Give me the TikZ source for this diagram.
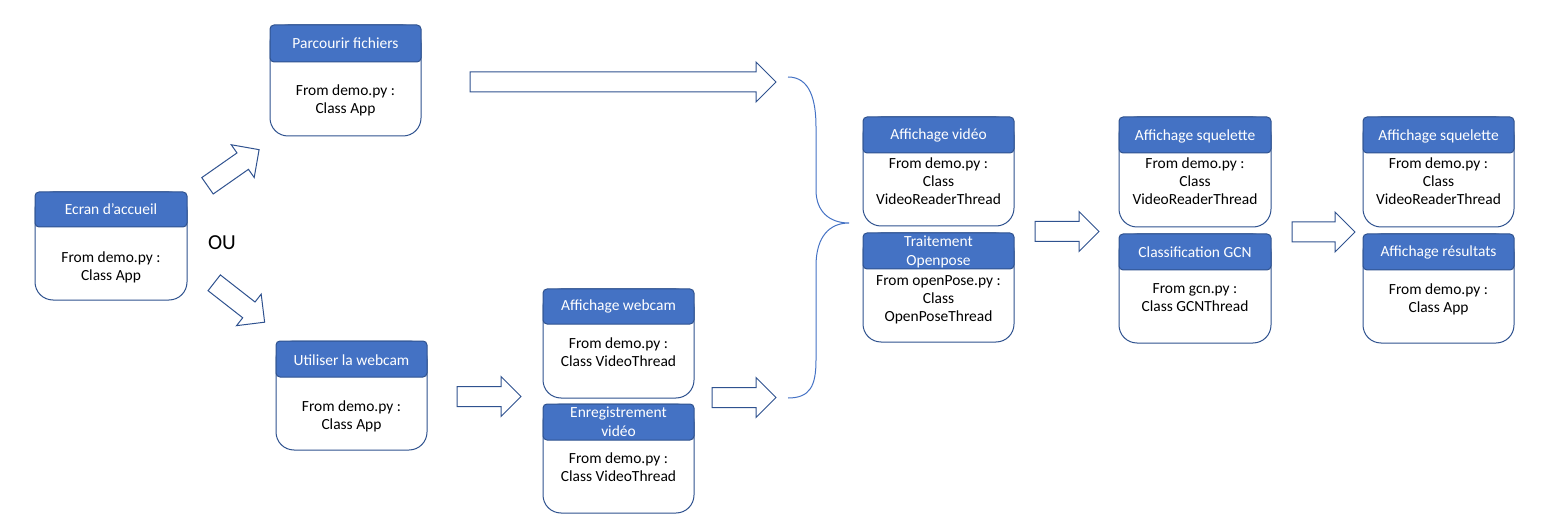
\documentclass[tikz,border=0pt]{standalone}
\usepackage{fontspec}
\setmainfont{Carlito}
\usepackage{tikz}

\definecolor{bleu}{HTML}{4472C4}
\definecolor{bordure}{HTML}{2F528F}

% block arrow: x, y of the tail, angle, length
\newcommand{\fleche}[4]{\draw[flechebloc, shift={(#1,#2)}, rotate=#3] (0,-10) -- (#4-20,-10) -- (#4-20,-20) -- (#4,0) -- (#4-20,20) -- (#4-20,10) -- (0,10) -- cycle;}

\begin{document}
\begin{tikzpicture}[x=0.75pt,y=-0.75pt,
	corps/.style={draw=bordure,line width=0.75pt,fill=white,rounded corners=13.5pt},
	entete/.style={draw=bordure,fill=bleu,line width=0.75pt,rounded corners=3pt},
	titre/.style={text=white,align=center,font=\fontsize{11.6}{14}\selectfont},
	texte/.style={align=center,font=\fontsize{11.6}{13.6}\selectfont},
	flechebloc/.style={draw=bordure,line width=0.75pt},
	accolade/.style={draw=bleu,line width=0.75pt}]
	
	\useasboundingbox (0,0) rectangle (1545,527);
	
	% ecran d'accueil
	\draw[corps] (35,192) rectangle (187,300);
	\draw[entete] (35,192) rectangle (187,227);
	\node[titre] (accueil) at (111,209) {Ecran d’accueil};
	\node[texte] (accueil txt) at (111,267) {From demo.py :\\Class App};
	\node[font=\fontsize{16}{19}\selectfont] (ou) at (222,243) {OU};
	
	% parcourir fichiers
	\draw[corps] (270,25) rectangle (421,136);
	\draw[entete] (270,25) rectangle (421,62);
	\node[titre] (parcourir) at (345.5,43) {Parcourir fichiers};
	\node[texte] (parcourir txt) at (345.5,100) {From demo.py :\\Class App};
	
	% utiliser la webcam
	\draw[corps] (276,341) rectangle (427,450);
	\draw[entete] (276,341) rectangle (427,377);
	\node[titre] (webcam) at (351.5,360) {Utiliser la webcam};
	\node[texte] (webcam txt) at (351.5,416.5) {From demo.py :\\Class App};
	
	% affichage webcam
	\draw[corps] (543,289) rectangle (694,398);
	\draw[entete] (543,289) rectangle (694,324);
	\node[titre] (affwebcam) at (618.5,306.5) {Affichage webcam};
	\node[texte] (affwebcam txt) at (618.5,352.5) {From demo.py :\\Class VideoThread};
	
	% enregistrement video
	\draw[corps] (543,404) rectangle (694,513);
	\draw[entete] (543,404) rectangle (694,440);
	\node[titre] (enreg) at (618.5,421.5) {Enregistrement\\vidéo};
	\node[texte] (enreg txt) at (618.5,467) {From demo.py :\\Class VideoThread};
	
	% affichage video
	\draw[corps] (863,117) rectangle (1014,226);
	\draw[entete] (863,117) rectangle (1014,153);
	\node[titre] (affvideo) at (938.5,135.5) {Affichage vidéo};
	\node[texte] (affvideo txt) at (938.5,181.5) {From demo.py :\\Class\\VideoReaderThread};
	
	% traitement openpose
	\draw[corps] (863,233) rectangle (1014,342);
	\draw[entete] (863,233) rectangle (1014,269);
	\node[titre] (openpose) at (938.5,252) {Traitement\\Openpose};
	\node[texte] (openpose txt) at (938.5,299.5) {From openPose.py :\\Class\\OpenPoseThread};
	
	% affichage squelette
	\draw[corps] (1119,117) rectangle (1271,227);
	\draw[entete] (1119,117) rectangle (1271,153);
	\node[titre] (squel) at (1195,136) {Affichage squelette};
	\node[texte] (squel txt) at (1195,181.5) {From demo.py :\\Class\\VideoReaderThread};
	
	% classification gcn
	\draw[corps] (1119,234) rectangle (1271,343);
	\draw[entete] (1119,234) rectangle (1271,270);
	\node[titre] (gcn) at (1195,252) {Classification GCN};
	\node[texte] (gcn txt) at (1195,298) {From gcn.py :\\Class GCNThread};
	
	% affichage squelette, fin
	\draw[corps] (1363,117) rectangle (1514,227);
	\draw[entete] (1363,117) rectangle (1514,153);
	\node[titre] (squel2) at (1438.5,136) {Affichage squelette};
	\node[texte] (squel2 txt) at (1438.5,181.5) {From demo.py :\\Class\\VideoReaderThread};
	
	% affichage resultats
	\draw[corps] (1363,234) rectangle (1514,343);
	\draw[entete] (1363,234) rectangle (1514,270);
	\node[titre] (resultats) at (1438.5,252) {Affichage résultats};
	\node[texte] (resultats txt) at (1438.5,299) {From demo.py :\\Class App};
	
	% fleches
	\fleche{207.5}{185.8}{35}{63}
	\fleche{214.2}{282.8}{-38}{64}
	\fleche{470}{82}{0}{306}
	\fleche{457}{396.5}{0}{64}
	\fleche{712}{397.5}{0}{64}
	\fleche{1035}{231.5}{0}{64}
	\fleche{1292}{232}{0}{63}
	
	% accolade
	\draw[accolade] (788,77) .. controls (810,77) and (816,100) .. (816,127) -- (816,190)
		.. controls (816,212) and (830,223) .. (849,223)
		.. controls (830,223) and (816,236) .. (816,266) -- (816,360)
		.. controls (816,386) and (810,398) .. (788,398);
	
\end{tikzpicture}
\end{document}
